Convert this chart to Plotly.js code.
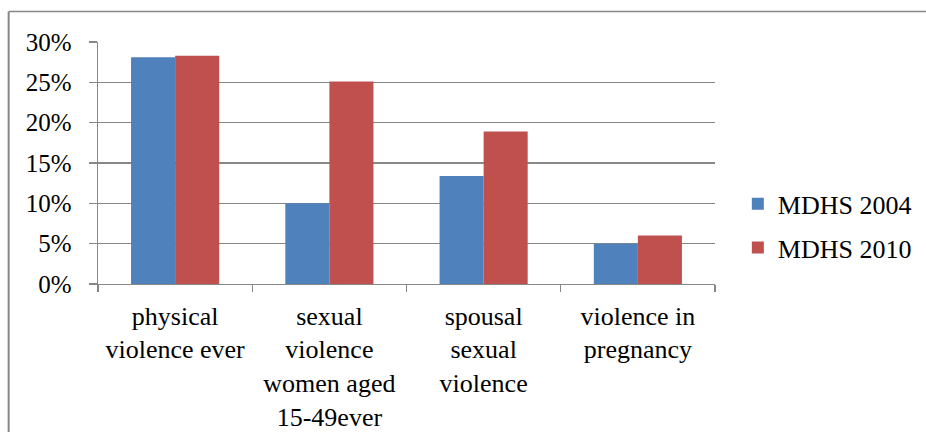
<!DOCTYPE html>
<html>
<head>
<meta charset="utf-8">
<script src="https://cdn.plot.ly/plotly-3.0.1.min.js"></script>
<style>
  html, body { margin: 0; padding: 0; background: #ffffff; }
  #chart { width: 926px; height: 432px; }
</style>
</head>
<body>
<div id="chart"></div>
<script>
// Prevalence of violence against women, by survey round (percent)
const categories = [
  "physical<br>violence ever",
  "sexual<br>violence<br>women aged<br>15-49ever",
  "spousal<br>sexual<br>violence",
  "violence in<br>pregnancy"
];
const mdhs2004 = [28.1, 10.0, 13.4, 5.0];
const mdhs2010 = [28.3, 25.1, 18.9, 6.0];
const seriesNames = ["MDHS 2004", "MDHS 2010"];
const yTicks = [0, 5, 10, 15, 20, 25, 30];
const yTickText = yTicks.map(v => v + "%");

const gridGray = "#878787";
const serif = "Liberation Serif";

const traces = [
  {
    type: "bar",
    name: seriesNames[0],
    x: categories,
    y: mdhs2004,
    marker: { color: "#4F81BD" },
    legendgroup: "a",
    hoverinfo: "none"
  },
  {
    type: "bar",
    name: seriesNames[1],
    x: categories,
    y: mdhs2010,
    marker: { color: "#C0504D" },
    legendgroup: "b",
    hoverinfo: "none"
  }
];

const layout = {
  width: 926,
  height: 432,
  margin: { l: 98, r: 211, t: 42, b: 148, pad: 0, autoexpand: false },
  paper_bgcolor: "#ffffff",
  plot_bgcolor: "#ffffff",
  font: { family: serif, size: 26, color: "#000000" },
  barmode: "group",
  bargap: 0.4286,
  bargroupgap: 0,
  showlegend: true,
  legend: {
    x: 1.037,
    xanchor: "left",
    y: 0.24,
    yanchor: "middle",
    font: { family: serif, size: 26, color: "#000000" },
    tracegroupgap: 7,
    bgcolor: "rgba(0,0,0,0)"
  },
  xaxis: {
    type: "category",
    tickson: "boundaries",
    ticks: "outside",
    ticklen: 7,
    tickwidth: 1.3,
    tickcolor: gridGray,
    showline: true,
    linecolor: gridGray,
    linewidth: 1.3,
    showgrid: false,
    zeroline: false,
    tickangle: 0,
    ticklabelstandoff: 8,
    automargin: false,
    tickfont: { family: serif, size: 26, color: "#000000" }
  },
  yaxis: {
    range: [0, 30],
    tickmode: "array",
    tickvals: yTicks,
    ticktext: yTickText,
    ticks: "outside",
    ticklen: 8,
    tickwidth: 1.3,
    tickcolor: gridGray,
    showline: true,
    linecolor: gridGray,
    linewidth: 1.3,
    showgrid: true,
    gridcolor: gridGray,
    gridwidth: 1.3,
    zeroline: false,
    ticklabelstandoff: 12,
    automargin: false,
    tickfont: { family: serif, size: 25, color: "#000000" }
  },
  // outer chart frame (left and top edges)
  shapes: [
    { type: "line", xref: "paper", yref: "paper",
      x0: -0.1448, x1: -0.1448, y0: 1.126, y1: -0.7,
      line: { color: gridGray, width: 2 } },
    { type: "line", xref: "paper", yref: "paper",
      x0: -0.1448, x1: 1.4, y0: 1.126, y1: 1.126,
      line: { color: gridGray, width: 1.5 } }
  ]
};

Plotly.newPlot("chart", traces, layout, { displayModeBar: false, staticPlot: true });
</script>
</body>
</html>
